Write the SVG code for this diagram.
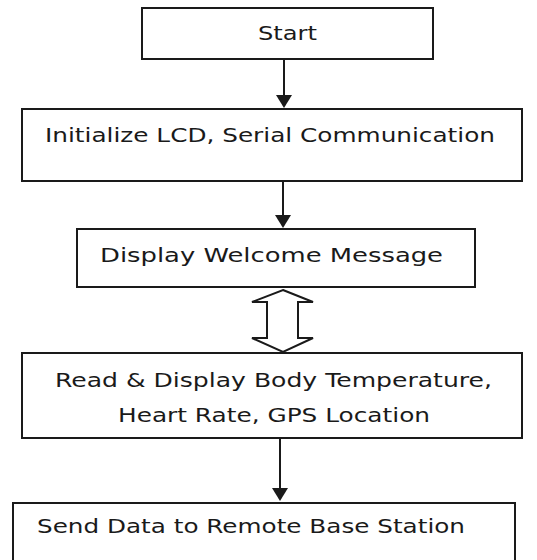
<svg xmlns="http://www.w3.org/2000/svg" width="537" height="560" viewBox="0 0 537 560">
<style>
.box{fill:#fff;stroke:#1a1a1a;stroke-width:2}
.t{font-family:"DejaVu Sans",Verdana,sans-serif;font-size:20px;fill:#1a1a1a}
.c{stroke:#1a1a1a;stroke-width:2;fill:none}
</style>
<defs>
<marker id="ah" markerUnits="userSpaceOnUse" markerWidth="16" markerHeight="14" refX="8" refY="13" orient="auto-start-reverse" viewBox="0 0 16 14">
<path d="M0,0 L16,0 L8,14 Z" fill="#1a1a1a" transform="rotate(0)"/>
</marker>
</defs>
<rect width="537" height="560" fill="#fff"/>
<g id="connectors">
<path class="c" d="M284,59 L284,95"/><path d="M276,95 L292,95 L284,108 Z" fill="#1a1a1a"/>
<path class="c" d="M283,181 L283,215"/><path d="M275,215 L291,215 L283,228 Z" fill="#1a1a1a"/>
<polygon points="283,290 313,302 298,302 298,338 313,338 283,352 252,338 267,338 267,302 252,302" fill="#fff" stroke="#1a1a1a" stroke-width="2" stroke-linejoin="miter"/>
<path class="c" d="M280,438 L280,488"/><path d="M272,488 L288,488 L280,501 Z" fill="#1a1a1a"/>
</g>
<g id="start">
<rect class="box" x="142" y="8" width="291" height="51"/>
<text class="t" x="258" y="40" textLength="59" lengthAdjust="spacingAndGlyphs">Start</text>
</g>
<g id="init">
<rect class="box" x="22" y="109" width="500" height="72"/>
<text class="t" x="45" y="142" textLength="450" lengthAdjust="spacingAndGlyphs">Initialize LCD, Serial Communication</text>
</g>
<g id="welcome">
<rect class="box" x="77" y="229" width="398" height="58"/>
<text class="t" x="100" y="262" textLength="343" lengthAdjust="spacingAndGlyphs">Display Welcome Message</text>
</g>
<g id="read">
<rect class="box" x="22" y="353" width="500" height="85"/>
<text class="t" x="55" y="387" textLength="437" lengthAdjust="spacingAndGlyphs">Read &amp; Display Body Temperature,</text>
<text class="t" x="118" y="422" textLength="312" lengthAdjust="spacingAndGlyphs">Heart Rate, GPS Location</text>
</g>
<g id="send">
<rect class="box" x="13" y="503" width="502" height="70"/>
<text class="t" x="37" y="533" textLength="428" lengthAdjust="spacingAndGlyphs">Send Data to Remote Base Station</text>
</g>
</svg>
